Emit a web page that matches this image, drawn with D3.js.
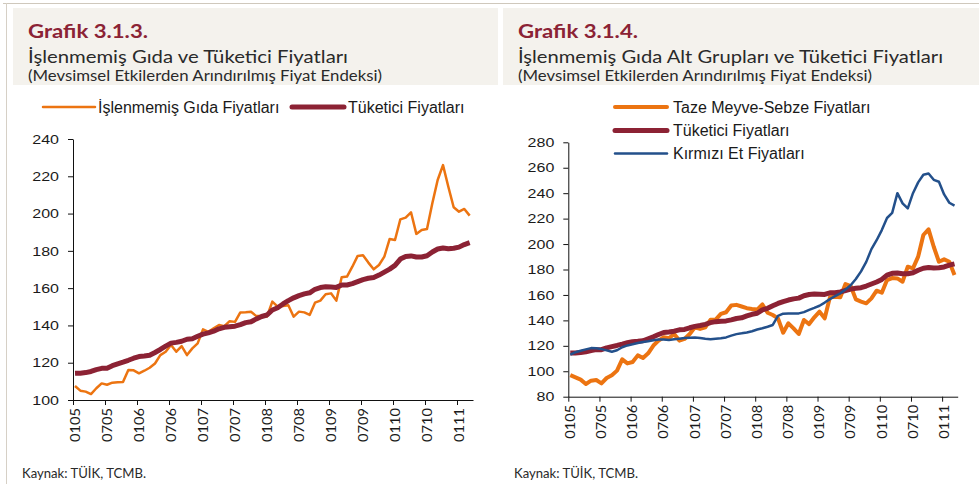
<!DOCTYPE html>
<html>
<head>
<meta charset="utf-8">
<script src="https://cdn.jsdelivr.net/npm/d3@7"></script>
<style>
  body { margin: 0; background: #fff; }
  svg text { fill: #1a1a1a; }
</style>
</head>
<body>
<svg id="chart" width="979" height="484"></svg>
<script>
// months 0105 .. 0411 (MMYY); series run to 0311
const months = [];
for (let yy = 5; yy <= 11; yy++) {
  for (let mm = 1; mm <= 12; mm++) {
    if (months.length < 76) months.push(String(mm).padStart(2, "0") + String(yy).padStart(2, "0"));
  }
}
const tickLabels = ["0105", "0705", "0106", "0706", "0107", "0707", "0108", "0708", "0109", "0709", "0110", "0710", "0111"];

// İşlenmemiş gıda fiyatları
const islenmemisGida = [107.5, 105, 104.5, 103.2, 106.3, 108.9, 108.2, 109.3, 109.5, 109.6,
  116.1, 115.9, 114.3, 115.7, 117.3, 119.6, 124.1, 125.9, 129.5, 125.9,
  128.9, 124.1, 127.7, 130.4, 137.9, 136.6, 138.4, 140.2, 139.6, 142.3,
  141.9, 147, 147.1, 147.3, 145, 145, 144.8, 152.8, 150.1, 150.4,
  150.8, 144.7, 147.4, 147, 145.6, 152.2, 153.3, 156.7, 157.2, 153.3,
  165.8, 166.2, 171.5, 177.3, 177.6, 173.7, 170.1, 172.4, 176.9, 186.4,
  185.8, 196.9, 197.8, 200.7, 189.1, 191.2, 191.7, 205.5, 218, 226,
  214.4, 203.4, 201, 202.5, 198.9];

// Tüketici fiyatları
const tuketici = [114.3, 114.4, 114.7, 115.3, 116.3, 117, 117, 118.4, 119.4, 120.3,
  121.3, 122.4, 123.3, 123.6, 124, 125.5, 127.1, 128.9, 130.5, 130.9,
  131.5, 132.6, 132.9, 134.2, 135.3, 136, 136.9, 138.2, 139, 139.3,
  139.6, 140.4, 141.5, 142, 143.5, 144.8, 145.6, 148.3, 149.5, 151.5,
  153.3, 154.8, 156, 156.9, 157.5, 159.4, 160.3, 160.7, 160.6, 160.4,
  161.7, 161.7, 162.4, 163.5, 164.6, 165.3, 165.7, 167, 168.6, 170.2,
  172.2, 175.6, 177, 177.3, 176.7, 176.7, 177.4, 179.4, 181, 181.5,
  181.1, 181.4, 182, 183.4, 184.4];

// Taze meyve-sebze fiyatları
const tazeMeyveSebze = [97, 95.2, 93.4, 90, 92.6, 93.1, 90.5, 94.7, 96.8, 100.5,
  109.4, 106.2, 107.3, 112.5, 110.4, 114.1, 120.2, 124.1, 126.7, 125.9,
  129.3, 124.1, 125.4, 129.3, 134.6, 133.3, 134.6, 140.4, 140.6, 145.1,
  146.4, 151.7, 152.2, 150.9, 149.6, 149, 148.5, 152.5, 146, 144.2,
  141.6, 130.3, 137.7, 133.7, 129.3, 140.3, 137.1, 142.4, 146.8, 141.6,
  158.1, 158.6, 158.1, 168.6, 167, 156.5, 154.7, 153.4, 157.3, 163.3,
  161.8, 171.7, 173.3, 173, 170.4, 182.2, 180.9, 190.1, 207.1, 211.6,
  197.9, 186.1, 188, 186.1, 175.6];

// Kırmızı et fiyatları
const kirmiziEt = [113.1, 115, 116.1, 117.2, 118.2, 118.1, 117.4, 116.4, 115.4, 116.5,
  118.9, 120.3, 121.2, 122.2, 123, 123.6, 124.3, 124.9, 125, 124.6,
  125.1, 125.6, 126.1, 126.4, 126.6, 126.2, 125.6, 125.1, 125.6, 126,
  126.6, 128, 129.2, 129.8, 130.5, 131.5, 132.8, 133.8, 135, 136.4,
  143.5, 145.3, 145.5, 145.5, 145.5, 146.5, 148.3, 149.8, 151.5, 154,
  156.7, 159, 161.3, 164.3, 167.6, 172.5, 178.5, 186, 196, 203,
  211, 220.5, 224.5, 240, 232, 228, 240, 248.5, 254.5, 255.5,
  250.5, 249, 239, 232.5, 230.2];

const ORANGE = "#ec7411";
const CRIMSON = "#8c2234";
const BLUE = "#23508b";
const headFont = "Lato, 'Open Sans', sans-serif";
const axisFont = "'Liberation Sans', Arial, sans-serif";

const svg = d3.select("#chart");

// frame
svg.append("line").attr("x1", 3).attr("x2", 979).attr("y1", 3.5).attr("y2", 3.5)
  .attr("stroke", "#cfc8bc").attr("stroke-width", 1);
svg.append("line").attr("x1", 6.5).attr("x2", 6.5).attr("y1", 3).attr("y2", 484)
  .attr("stroke", "#d6d0c6").attr("stroke-width", 1);

function header(x0, w, tx, title, sub, subLen) {
  svg.append("rect").attr("x", x0).attr("y", 8).attr("width", w).attr("height", 77).attr("fill", "#f4f2ed");
  svg.append("text").attr("x", tx).attr("y", 37.5)
    .attr("font-family", headFont).attr("font-weight", "bold").attr("font-size", 18)
    .attr("textLength", 120).attr("lengthAdjust", "spacingAndGlyphs")
    .style("fill", "#8b2335").text(title);
  svg.append("text").attr("x", tx).attr("y", 63)
    .attr("font-family", headFont).attr("font-size", 17.5)
    .attr("textLength", subLen).attr("lengthAdjust", "spacingAndGlyphs")
    .style("fill", "#2a2a2a").text(sub);
  svg.append("text").attr("x", tx).attr("y", 81)
    .attr("font-family", headFont).attr("font-size", 14.5)
    .attr("textLength", 354).attr("lengthAdjust", "spacingAndGlyphs")
    .style("fill", "#2a2a2a").text("(Mevsimsel Etkilerden Arındırılmış Fiyat Endeksi)");
}

header(13, 485, 28, "Grafik 3.1.3.", "İşlenmemiş Gıda ve Tüketici Fiyatları", 320);
header(503, 476, 518, "Grafik 3.1.4.", "İşlenmemiş Gıda Alt Grupları ve Tüketici Fiyatları", 425);

function panel(o) {
  const g = svg.append("g");
  const x = d3.scalePoint().domain(months).range([o.left, o.right]);
  const y = d3.scaleLinear().domain(o.domain).range([o.bottom, o.top]);

  const yAxis = g.append("g").attr("transform", `translate(${o.left},0)`)
    .call(d3.axisLeft(y).tickValues(d3.range(o.domain[0], o.domain[1] + 1, 20))
      .tickSize(5).tickSizeOuter(0).tickPadding(9));
  yAxis.selectAll("text")
    .attr("font-family", axisFont).attr("font-size", 13)
    .attr("textLength", d => String(d).length * 8.9).attr("lengthAdjust", "spacingAndGlyphs")
    .style("fill", "#1a1a1a");

  const xAxis = g.append("g").attr("transform", `translate(0,${o.bottom})`)
    .call(d3.axisBottom(x).tickValues(tickLabels).tickSize(5).tickSizeOuter(0));
  xAxis.selectAll("text")
    .attr("font-family", headFont).attr("font-size", 13)
    .attr("text-anchor", "end")
    .attr("transform", "translate(1.5,8) rotate(-90)")
    .attr("x", 0).attr("y", 0).attr("dy", "0.36em")
    .attr("textLength", 34).attr("lengthAdjust", "spacingAndGlyphs")
    .style("fill", "#1a1a1a");

  g.selectAll(".domain, .tick line").attr("stroke", "#111").attr("stroke-width", 1);

  const line = d3.line().x((d, i) => x(months[i]) + 2).y(d => y(d));
  o.series.forEach(s => {
    g.append("path").datum(s.values)
      .attr("fill", "none").attr("stroke", s.color).attr("stroke-width", s.width)
      .attr("stroke-linejoin", "round").attr("d", line);
  });

  // legend
  o.series.forEach(s => {
    const lg = g.append("g").attr("transform", `translate(${s.lx},${s.ly})`);
    lg.append("line").attr("x1", 0).attr("x2", 52).attr("stroke", s.color)
      .attr("stroke-width", s.lw).attr("stroke-linecap", "round");
    lg.append("text").attr("x", s.tx).attr("y", 0).attr("dy", "0.36em")
      .attr("font-family", axisFont).attr("font-size", 16).text(s.name);
  });

  svg.append("text").attr("x", o.srcX).attr("y", 478)
    .attr("font-family", headFont).attr("font-size", 12.5)
    .attr("textLength", 124).attr("lengthAdjust", "spacingAndGlyphs")
    .style("fill", "#2a2a2a").text("Kaynak: TÜİK, TCMB.");
}

panel({
  left: 73, right: 473, top: 139, bottom: 400, domain: [100, 240], srcX: 22,
  series: [
    { name: "İşlenmemiş Gıda Fiyatları", values: islenmemisGida, color: ORANGE, width: 2.5, lw: 2.5, lx: 43, ly: 107, tx: 55 },
    { name: "Tüketici Fiyatları", values: tuketici, color: CRIMSON, width: 5, lw: 5, lx: 292, ly: 107, tx: 56 }
  ]
});

panel({
  left: 568.3, right: 957.7, top: 142.3, bottom: 396.7, domain: [80, 280], srcX: 514,
  series: [
    { name: "Taze Meyve-Sebze Fiyatları", values: tazeMeyveSebze, color: ORANGE, width: 4, lw: 4, lx: 615, ly: 107, tx: 58 },
    { name: "Tüketici Fiyatları", values: tuketici, color: CRIMSON, width: 5, lw: 5, lx: 615, ly: 130.5, tx: 58 },
    { name: "Kırmızı Et Fiyatları", values: kirmiziEt, color: BLUE, width: 2.5, lw: 2.5, lx: 615, ly: 153.5, tx: 58 }
  ]
});
</script>
</body>
</html>
